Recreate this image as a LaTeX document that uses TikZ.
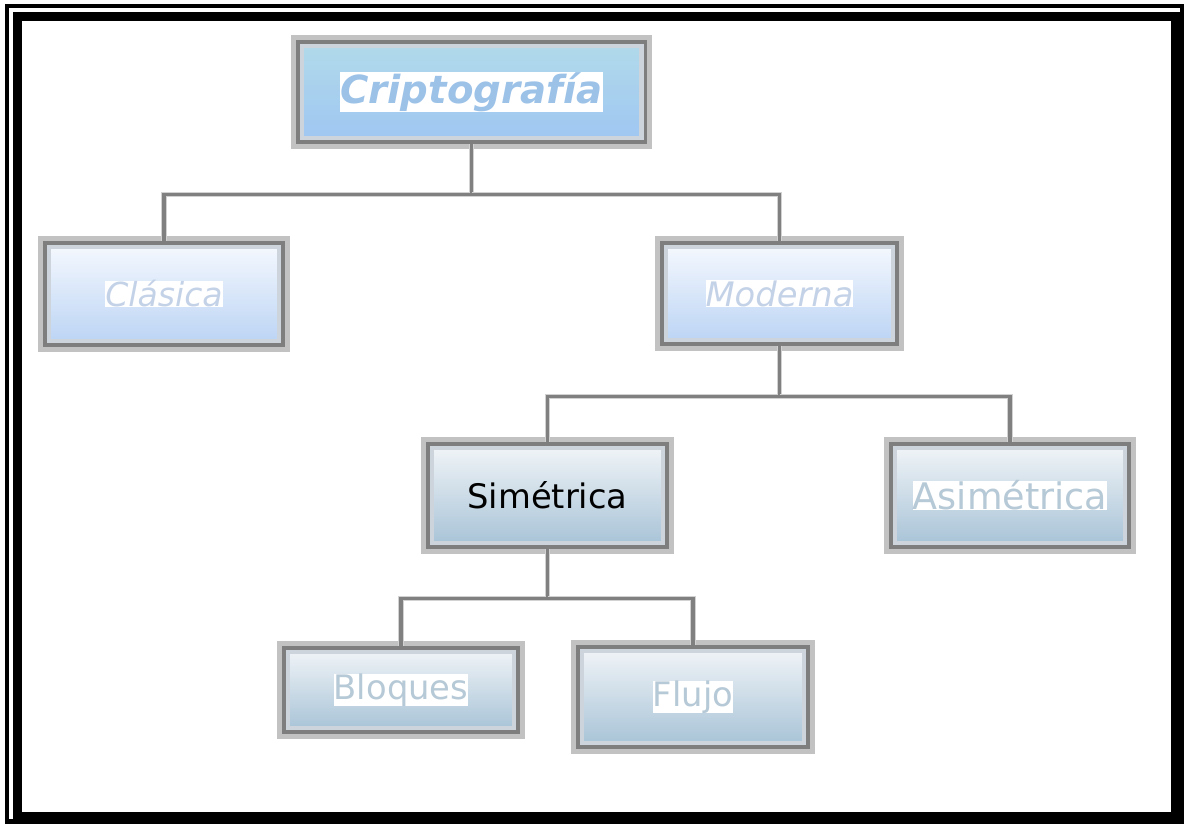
\documentclass[tikz,border=0pt]{standalone}
\usepackage{fontspec}
\setmainfont{DejaVu Sans}
\usetikzlibrary{calc}
\definecolor{frameBlack}{HTML}{000000}
\definecolor{haloGray}{HTML}{A8A8A8}
\definecolor{edgeGray}{HTML}{7E7E7E}
\definecolor{rimGray}{HTML}{CDD4DC}
\definecolor{connGray}{HTML}{808080}
\definecolor{critTop}{HTML}{B2DAEA}
\definecolor{critBot}{HTML}{9EC6F2}
\definecolor{lightTop}{HTML}{F6F9FE}
\definecolor{lightBot}{HTML}{BAD3F4}
\definecolor{steelTop}{HTML}{F2F5F8}
\definecolor{steelBot}{HTML}{A6C2D6}
\definecolor{critText}{HTML}{9CC2E8}
\definecolor{lightText}{HTML}{C4D2E8}
\definecolor{steelText}{HTML}{B6C9D6}

\newcommand\etiq[1]{{\setlength\fboxsep{0pt}\colorbox{white}{#1}}}

\begin{document}
\begin{tikzpicture}[
  x=0.025cm,y=-0.025cm,
  caja/.style={rectangle,inner sep=0pt,
    preaction={draw=haloGray,line width=10pt,opacity=.7},
    path picture={\draw[rimGray,line width=9pt]
      (path picture bounding box.south west) rectangle (path picture bounding box.north east);},
    draw=edgeGray,line width=2.2pt},
  cajaCrit/.style={caja,top color=critTop,bottom color=critBot},
  cajaClara/.style={caja,top color=lightTop,bottom color=lightBot},
  cajaAcero/.style={caja,top color=steelTop,bottom color=steelBot},
  conector/.style={connGray,line width=2.2pt,preaction={draw=gray!35,line width=3.6pt}}
]
  \useasboundingbox (0,0) rectangle (1184,823);
  % marco
  \draw[frameBlack,line width=2.9pt] (7,6) rectangle (1182.5,821.5);
  \draw[frameBlack,line width=6.4pt] (17.5,16.5) rectangle (1175.5,816);

  % cajas
  \node[cajaCrit,minimum width=8.675cm,minimum height=2.5cm] (cripto) at (471.5,92)
    {\etiq{\fontsize{27.5}{30}\selectfont\bfseries\itshape\color{critText}Criptografía}};
  \node[cajaClara,minimum width=5.95cm,minimum height=2.55cm] (clasica) at (164,294)
    {\etiq{\fontsize{23.5}{28}\selectfont\itshape\color{lightText}Clásica}};
  \node[cajaClara,minimum width=5.875cm,minimum height=2.525cm] (moderna) at (779.5,293.5)
    {\etiq{\fontsize{24}{28}\selectfont\itshape\color{lightText}Moderna}};
  \node[cajaAcero,minimum width=5.975cm,minimum height=2.575cm] (simetrica) at (547.5,495.5)
    {\fontsize{24}{28}\selectfont Simétrica};
  \node[cajaAcero,minimum width=5.95cm,minimum height=2.575cm] (asimetrica) at (1010,495.5)
    {\etiq{\fontsize{26}{30}\selectfont\color{steelText}Asimétrica}};
  \node[cajaAcero,minimum width=5.85cm,minimum height=2.1cm] (bloques) at (401,690)
    {\etiq{\fontsize{24}{28}\selectfont\color{steelText}Bloques}};
  \node[cajaAcero,minimum width=5.75cm,minimum height=2.5cm] (flujo) at (693,697)
    {\etiq{\fontsize{24}{28}\selectfont\color{steelText}Flujo}};

  % conectores
  \draw[conector] (cripto.south) -- ++(0,51) -| (clasica.north);
  \draw[conector] (cripto.south) ++(0,51) -| (moderna.north);
  \draw[conector] (moderna.south) -- ++(0,51) -| (simetrica.north);
  \draw[conector] (moderna.south) ++(0,51) -| (asimetrica.north);
  \draw[conector] (simetrica.south) -- ++(0,50) -| (bloques.north);
  \draw[conector] (simetrica.south) ++(0,50) -| (flujo.north);
\end{tikzpicture}
\end{document}
